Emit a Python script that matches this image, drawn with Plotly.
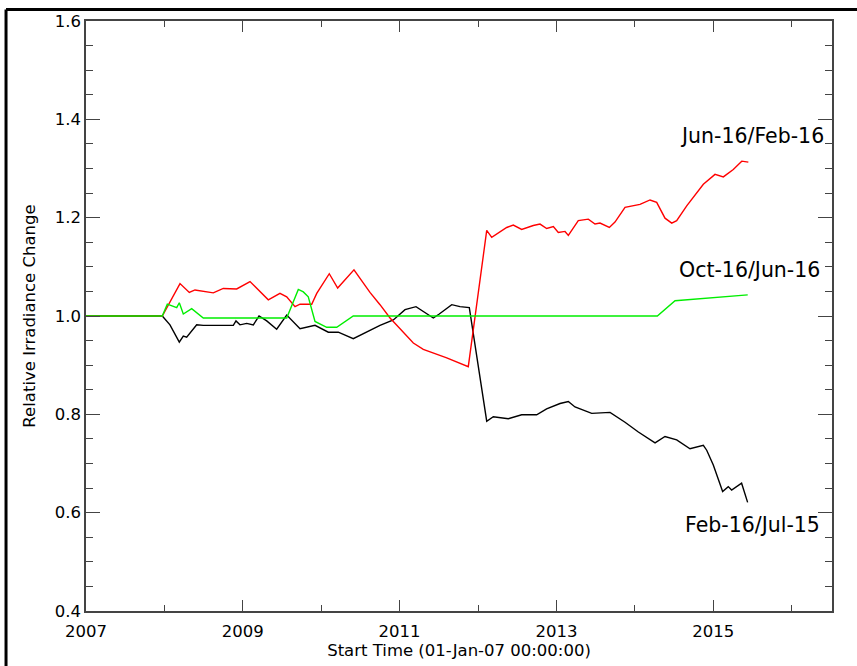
import plotly.graph_objects as go

# Ratio series vs. start time (decimal years)
black_years = [2007.0, 2007.973, 2008.071, 2008.190, 2008.241, 2008.284, 2008.412, 2008.496,
               2008.709, 2008.879, 2008.913, 2008.964, 2009.050, 2009.134, 2009.207, 2009.305,
               2009.432, 2009.560, 2009.730, 2009.921, 2010.091, 2010.218, 2010.409, 2010.580,
               2010.750, 2010.920, 2011.069, 2011.209, 2011.302, 2011.430, 2011.506, 2011.665,
               2011.770, 2011.889, 2012.111, 2012.195, 2012.386, 2012.557, 2012.748, 2012.875,
               2013.046, 2013.152, 2013.237, 2013.301, 2013.450, 2013.684, 2013.875, 2014.045,
               2014.258, 2014.385, 2014.534, 2014.704, 2014.874, 2014.917, 2015.001, 2015.120,
               2015.192, 2015.235, 2015.362, 2015.439]
black_vals = [1.0, 1.0, 0.982, 0.947, 0.959, 0.957, 0.982, 0.981,
              0.981, 0.981, 0.990, 0.982, 0.985, 0.982, 1.000, 0.990,
              0.973, 1.002, 0.974, 0.981, 0.967, 0.967, 0.954, 0.967,
              0.981, 0.992, 1.013, 1.019, 1.009, 0.996, 1.004, 1.023,
              1.019, 1.017, 0.786, 0.795, 0.791, 0.799, 0.799, 0.811,
              0.822, 0.826, 0.815, 0.811, 0.802, 0.804, 0.784, 0.764,
              0.742, 0.755, 0.748, 0.730, 0.737, 0.727, 0.697, 0.643,
              0.653, 0.646, 0.660, 0.621]

red_years = [2007.0, 2007.973, 2008.199, 2008.318, 2008.390, 2008.624, 2008.751, 2008.922,
             2009.092, 2009.219, 2009.325, 2009.474, 2009.560, 2009.666, 2009.730, 2009.879,
             2009.943, 2010.103, 2010.210, 2010.418, 2010.622, 2010.750, 2010.878, 2011.175,
             2011.302, 2011.601, 2011.876, 2012.111, 2012.175, 2012.366, 2012.450, 2012.557,
             2012.705, 2012.791, 2012.876, 2012.961, 2013.024, 2013.110, 2013.152, 2013.279,
             2013.407, 2013.492, 2013.556, 2013.675, 2013.747, 2013.875, 2014.066, 2014.194,
             2014.279, 2014.385, 2014.471, 2014.534, 2014.662, 2014.874, 2015.023, 2015.129,
             2015.256, 2015.364, 2015.448]
red_vals = [1.0, 1.0, 1.066, 1.048, 1.053, 1.047, 1.056, 1.055,
            1.070, 1.049, 1.033, 1.046, 1.039, 1.019, 1.024, 1.024,
            1.046, 1.086, 1.057, 1.094, 1.048, 1.023, 0.996, 0.945,
            0.932, 0.915, 0.897, 1.174, 1.160, 1.180, 1.185, 1.176,
            1.184, 1.187, 1.178, 1.182, 1.170, 1.172, 1.164, 1.194,
            1.197, 1.187, 1.189, 1.180, 1.191, 1.221, 1.227, 1.236,
            1.231, 1.199, 1.189, 1.194, 1.224, 1.268, 1.288, 1.283,
            1.298, 1.315, 1.313]

green_years = [2007.0, 2007.973, 2008.037, 2008.157, 2008.190, 2008.241, 2008.348, 2008.390,
               2008.496, 2009.560, 2009.708, 2009.772, 2009.835, 2009.921, 2010.070, 2010.198,
               2010.409, 2014.287, 2014.513, 2015.440]
green_vals = [1.0, 1.0, 1.024, 1.017, 1.027, 1.004, 1.015, 1.010,
              0.996, 0.996, 1.054, 1.049, 1.039, 0.989, 0.977, 0.977,
              1.0, 1.0, 1.031, 1.043]

series_labels = ["Feb-16/Jul-15", "Jun-16/Feb-16", "Oct-16/Jun-16"]
x_tick_years = [2007, 2009, 2011, 2013, 2015]
y_tick_vals = [0.4, 0.6, 0.8, 1.0, 1.2, 1.4, 1.6]

FONT = "DejaVu Sans, Liberation Sans, Arial, sans-serif"
AXIS_COLOR = "#444444"

fig = go.Figure()
fig.add_trace(go.Scatter(x=black_years, y=black_vals, mode="lines",
                         line=dict(color="black", width=1.4), name=series_labels[0]))
fig.add_trace(go.Scatter(x=red_years, y=red_vals, mode="lines",
                         line=dict(color="#ff0000", width=1.4), name=series_labels[1]))
fig.add_trace(go.Scatter(x=green_years, y=green_vals, mode="lines",
                         line=dict(color="#00ee00", width=1.4), name=series_labels[2]))

# Series labels near the right edge
label_pos = [(2016.39, 0.574), (2016.44, 1.366), (2016.39, 1.094)]
for text, (lx, ly) in zip(series_labels, label_pos):
    fig.add_annotation(x=lx, y=ly, text=text, showarrow=False, xanchor="right",
                       yanchor="middle", font=dict(family=FONT, size=20.5, color="black"))

# Outer frame (left and top edges)
fig.add_shape(type="line", xref="paper", yref="paper", x0=-0.1072, x1=1.04, y0=1.0193, y1=1.0193,
              line=dict(color="black", width=3))
fig.add_shape(type="line", xref="paper", yref="paper", x0=-0.1072, x1=-0.1072, y0=1.0193, y1=-0.1,
              line=dict(color="black", width=3))

fig.update_layout(
    width=857, height=666,
    margin=dict(l=86, r=25, t=17, b=54),
    paper_bgcolor="white", plot_bgcolor="white",
    showlegend=False,
    font=dict(family=FONT, size=16, color="black"),
)
fig.update_xaxes(
    range=[2007, 2016.515], tickmode="array", tickvals=x_tick_years,
    ticktext=[str(v) for v in x_tick_years],
    ticks="inside", ticklen=11, tickwidth=1, tickcolor=AXIS_COLOR,
    showline=True, linecolor=AXIS_COLOR, linewidth=1.5, mirror="ticks",
    showgrid=False, zeroline=False, ticklabelstandoff=4,
    minor=dict(tickmode="linear", tick0=2007, dtick=1, ticks="inside", ticklen=6,
               tickcolor=AXIS_COLOR, showgrid=False),
    tickfont=dict(family=FONT, size=16.5),
    title=dict(text="Start Time (01-Jan-07 00:00:00)", font=dict(family=FONT, size=16.5), standoff=2),
)
fig.update_yaxes(
    range=[0.4, 1.6], tickmode="array", tickvals=y_tick_vals,
    ticktext=[f"{v:.1f}" for v in y_tick_vals],
    ticks="inside", ticklen=14, tickwidth=1, tickcolor=AXIS_COLOR,
    showline=True, linecolor=AXIS_COLOR, linewidth=1.5, mirror="ticks",
    showgrid=False, zeroline=False,
    minor=dict(tickmode="linear", tick0=0.4, dtick=0.05, ticks="inside", ticklen=7,
               tickcolor=AXIS_COLOR, showgrid=False),
    tickfont=dict(family=FONT, size=16.5),
    title=dict(text="Relative Irradiance Change", font=dict(family=FONT, size=16.5), standoff=15),
)

fig.write_html("out.html")
